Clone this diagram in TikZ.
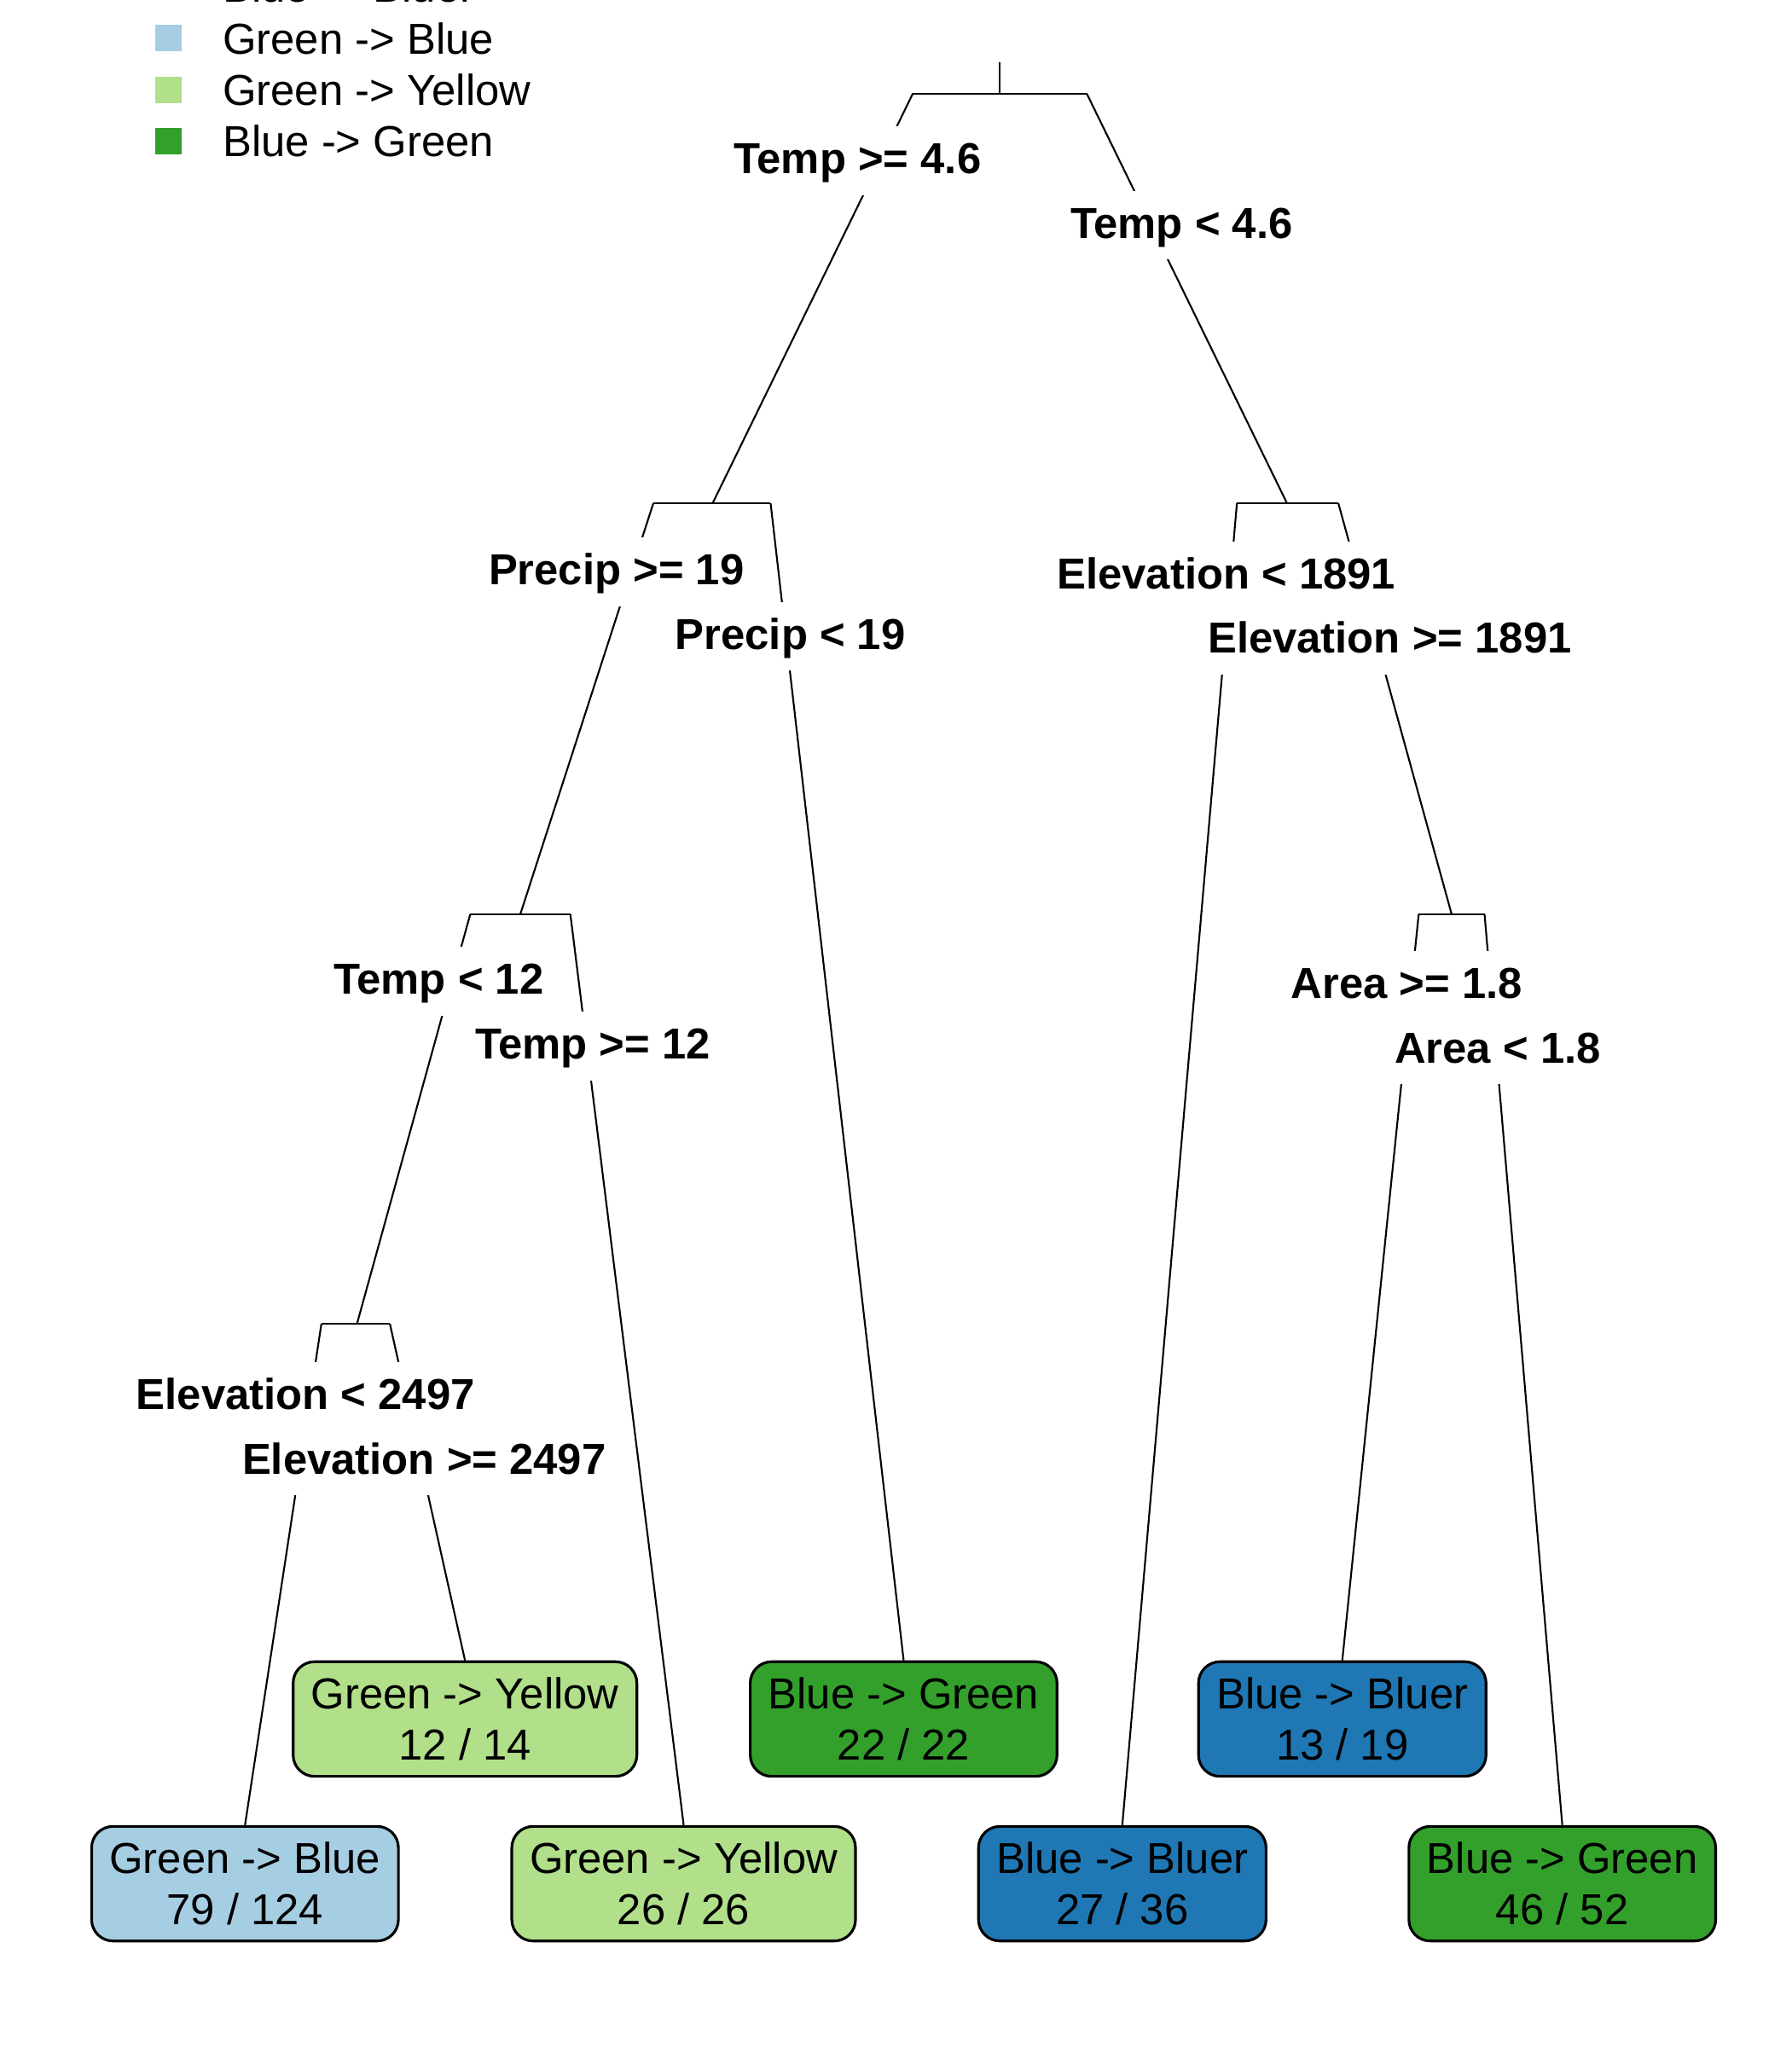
\documentclass[tikz,border=0pt]{standalone}
\usepackage{fontspec}
\setmainfont{Liberation Sans}
\usetikzlibrary{positioning}
\definecolor{lblue}{HTML}{A6CEE3}
\definecolor{lgreen}{HTML}{B2DF8A}
\definecolor{dgreen}{HTML}{33A02C}
\definecolor{dblue}{HTML}{1F78B4}

\begin{document}
\begin{tikzpicture}[x=0.1544mm, y=-0.1544mm, line width=0.6pt,
        font=\fontsize{14.45}{16.9}\selectfont,
        split/.style={fill=white, font=\fontsize{14.45}{16.9}\selectfont\bfseries,
            text height=10.4pt, text depth=1.7pt, inner xsep=2pt, inner ysep=5.4pt},
        leaf/.style={draw, line width=0.9pt, rounded corners=2.5mm, align=center,
            inner xsep=2.1mm, minimum height=13.43mm},
        key/.style={minimum size=3.1mm, inner sep=0pt},
        keytext/.style={inner sep=0pt, text height=10.4pt, text depth=0pt}]
        \useasboundingbox (0,0) rectangle (1360,1554);
        \clip (0,0) rectangle (1360,1554);

        % legend
        \node[key, fill=dblue]                  (key 1)  at (128,-10)  {};
        \node[key, fill=lblue]                  (key 2)  at (128,29)   {};
        \node[key, fill=lgreen]                 (key 3)  at (128,68)   {};
        \node[key, fill=dgreen]                 (key 4)  at (128,107)  {};
        \node[keytext, right=4.6mm of key 1]    (text 1) {Blue -> Bluer};
        \node[keytext, right=4.6mm of key 2]    (text 2) {Green -> Blue};
        \node[keytext, right=4.6mm of key 3]    (text 3) {Green -> Yellow};
        \node[keytext, right=4.6mm of key 4]    (text 4) {Blue -> Green};

        % leaves
        \node[leaf, fill=lblue]     (leaf 1) at (186,1430)  {Green -> Blue\\79 / 124};
        \node[leaf, fill=lgreen]    (leaf 2) at (353,1305)  {Green -> Yellow\\12 / 14};
        \node[leaf, fill=lgreen]    (leaf 3) at (519,1430)  {Green -> Yellow\\26 / 26};
        \node[leaf, fill=dgreen]    (leaf 4) at (686,1305)  {Blue -> Green\\22 / 22};
        \node[leaf, fill=dblue]     (leaf 5) at (852,1430)  {Blue -> Bluer\\27 / 36};
        \node[leaf, fill=dblue]     (leaf 6) at (1019,1305) {Blue -> Bluer\\13 / 19};
        \node[leaf, fill=dgreen]    (leaf 7) at (1186,1430) {Blue -> Green\\46 / 52};

        % splits
        \coordinate (root) at (759,47);
        \coordinate (split 1) at (759,71);  \coordinate (split 1l) at (693,71);   \coordinate (split 1r) at (825,71);
        \coordinate (split 2) at (541,382); \coordinate (split 2l) at (496,382);  \coordinate (split 2r) at (585,382);
        \coordinate (split 3) at (977,382); \coordinate (split 3l) at (939,382);  \coordinate (split 3r) at (1016,382);
        \coordinate (split 4) at (395,694); \coordinate (split 4l) at (357,694);  \coordinate (split 4r) at (433,694);
        \coordinate (split 5) at (1102,694);\coordinate (split 5l) at (1077,694); \coordinate (split 5r) at (1127,694);
        \coordinate (split 6) at (271,1005);\coordinate (split 6l) at (244,1005); \coordinate (split 6r) at (296,1005);

        \draw (root) -- (split 1);
        \draw (split 1l) -- (split 1r);
        \draw (split 1l) -- (split 2);
        \draw (split 1r) -- (split 3);
        \draw (split 2l) -- (split 2r);
        \draw (split 2l) -- (split 4);
        \draw (split 2r) -- (leaf 4.north);
        \draw (split 3l) -- (split 3r);
        \draw (split 3l) -- (leaf 5.north);
        \draw (split 3r) -- (split 5);
        \draw (split 4l) -- (split 4r);
        \draw (split 4l) -- (split 6);
        \draw (split 4r) -- (leaf 3.north);
        \draw (split 5l) -- (split 5r);
        \draw (split 5l) -- (leaf 6.north);
        \draw (split 5r) -- (leaf 7.north);
        \draw (split 6l) -- (split 6r);
        \draw (split 6l) -- (leaf 1.north);
        \draw (split 6r) -- (leaf 2.north);

        % split labels
        \node[split] (cond 1)  at (651,122)  {Temp >= 4.6};
        \node[split] (cond 2)  at (897,171)  {Temp < 4.6};
        \node[split] (cond 3)  at (468,434)  {Precip >= 19};
        \node[split] (cond 4)  at (600,483)  {Precip < 19};
        \node[split] (cond 5)  at (931,437)  {Elevation < 1891};
        \node[split] (cond 6)  at (1055,486) {Elevation >= 1891};
        \node[split] (cond 7)  at (333,745)  {Temp < 12};
        \node[split] (cond 8)  at (450,794)  {Temp >= 12};
        \node[split] (cond 9)  at (1068,748) {Area >= 1.8};
        \node[split] (cond 10) at (1137,797) {Area < 1.8};
        \node[split] (cond 11) at (232,1060) {Elevation < 2497};
        \node[split] (cond 12) at (322,1109) {Elevation >= 2497};
\end{tikzpicture}
\end{document}
